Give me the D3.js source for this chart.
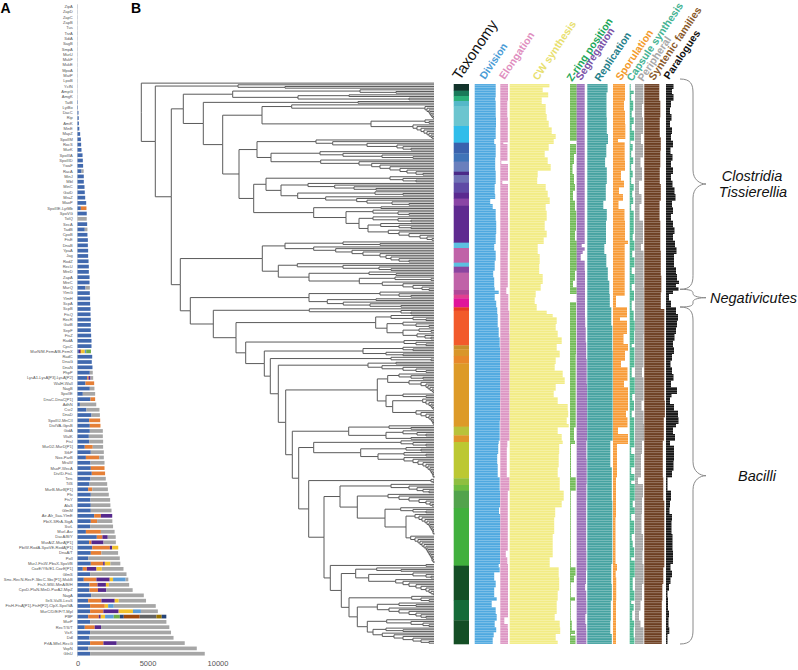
<!DOCTYPE html>
<html>
<head>
<meta charset="utf-8">
<script src="https://cdn.jsdelivr.net/npm/d3@7"></script>
<style>
    html, body { margin: 0; padding: 0; background: #fff; }
    svg { display: block; font-family: "Liberation Sans", Arial, sans-serif; }
</style>
</head>
<body>
<div id="chart"></div>
<script>
// ---- panel A: stacked bars per gene family ----
var geneNames = ["ZipA","ZapD","ZapC","ZapB","Tus","TrzA","SdiA","SagB","SmpA","MurU","MukF","MukE","MpoA","MatP","LpoB","YcfN","AmpG","AmgK","TatB","LytBo","DacC","Rip","AmiK","MinE","MapZ","SpoIIM","RocS","MurK","SpoIIIA","SpoIIID","YwaF","RacA",
    "MinJ","Mbl","MinC","GatD","MraZ","MaoP","SpoIIIE-LytMb","SpoVG","TolQ","SecA","TadB","CpoB","FtsE","DnaB","YpaA","Jag","RodZ","RecU","MreD","ZapA","MreC","MurQ","YlmG","YlmH","ScpA","ScpB","FtsQ","RecR","GatB","SepF","FtsZ","RadA",
    "CpsC","MurN/M-FemA/B-FemX","RadC","DnaG","DnaN","PhpP","LysA1-LysA[P3]-LysA[P2]","WalH-WalI","NagB","SpoIIE","DnaC-DnaC[P1]","AdhN","Csr2","DnaD","SpoIIIJ-MnCII","DivIVA-GpsB","GidA","WalK","FtsI","MurD2-MurD[P1]","StkP","Nox-ParB","MraW","MsoP-WecA","DivID-FtsL","Terc","TilS","MurB-MurB[P1]","Pfx","FtsY","AlaS","GlmM",
    "Air-Alr_Ilaa-YlmE","PbiX-SRrA-SigA","SsrL","MurI-Asr","DacA/B/Y","MurA/Z-MurA[P1]","PbiW-RodA-SpoVE-RodA[P1]","DnaA/T","PolI","MurJ-FtsW-PbuX-SpoVB","CozE/Yfk/E1-CozE[P1]","GlmS","Smc-RecN-RecF-SbcC-Sbc[P1]-MukB","FtsX-MSI-MinA/B/H","CpxD-PlaN-MinD-ParA2-MipZ","NagA","IleS-ValS-LeuS","FtsH-FtsA[P1]-FtsH[P2]-ClpX-SpoIVA","MurC/D/E/F/T-Mpl","PBP","MurP","RecT/S/T","VicK","Ddl","PrfA-MfeI-RecG","VopN","GlnU"];

var barKinds = ["b","b","b","b","b","b","b","b","b","b","b","b","b","b","b","b","b","b","b","b","b","b","b","b","b","b","b","b","b","b","b","bg",
    "b","b","b","b","b","b","bo","b","g","b","bg","b","b","b","b","b","b","b","b","b","b","bg","b","b","b","b","b","b","b","b","b","b",
    "b","bprylt","b","b","b","bg","bopg","bo","bg","bg","bo","bg","bg","bg","bo","bo","bg","bg","bg","bog","bg","bog","bg","bo","bo","bg","bg","bog","bg","bg","bg","bg",
    "bop","bog","bg","bog","bopg","bopg","bopy","bog","bg","bopyg","bopyg","bg","bopylg","bopyg","bopg","bg","bopyg","boylg","bopylg","bopyltdrkvd","bg","bopg","bg","bg","bopg","bg","bg"];

var barLengths = [[8],[8],[8],[8],[8],[8],[8],[8],[8],[8],[8],[8],[8],[8],[8],[8],[8],[8],[30],[35],[70],[90],[100],[130],[190],[240],[260],[285],[360],[380],[400],[290,150],
    [450],[450],[500],[520],[550],[620],[240,400],[660],[660],[690],[520,190],[710],[740],[740],[760],[760],[790],[810],[810],[860],[860],[570,310],[880],[900],[900],[930],[930],[950],[950],[950],[975],[1000],
    [1000],[100,100,60,260,100,340],[1050],[1020],[1070],[880,210],[690,100,140,190],[570,620],[880,330],[380,880],[930,330],[170,1170],[640,930],[1000,600],[830,790],[880,760],[880,930],[810,1000],[830,1000],[520,570,740],[950,930],[600,950,330],[930,1000],[950,980],[1020,950],[930,1090],[860,1260],[760,290,1120],[950,1285],[930,1400],[950,1400],[950,1480],
    [1190,480,810],[950,450,1090],[900,1640],[600,1070,980],[1380,400,380,570],[830,170,860,880],[1050,1260,170,430],[950,760,1190],[760,2260],[950,880,120,400,710],[380,285,690,380,1550],[900,2600],[450,900,950,240,900,190],[860,570,600,210,1450],[860,600,600,1880],[975,3760],[760,950,950,285,1950],[900,1050,240,400,3000],[900,950,1090,1020,570,1210],[760,760,140,310,620,430,285,1140,1190,380,330],[900,5450],[520,710,450,4880],[900,5780],[860,6000],[900,950,950,4860],[760,7760],[900,8190]];

var barColors = {b: "#4169ae", o: "#e57f36", g: "#a6a6a6", y: "#f2c22e", p: "#56298c", l: "#5b9bd5", t: "#70ad47", d: "#264478", r: "#9e480e", k: "#636363", v: "#997300"};
var barTicks = [0, 5000, 10000];

// ---- panel B: taxonomy strip, [last row, colour] ----
var taxonEnds = [4,7.2,10.2,13.2,25.2,35.2,41.6,46.6,52.6,54.6,59.2,65.2,68.8,73,95.2,98.4,107.2,109.6,113.2,123.6,126.4,128.6,134,136,156.8,159.2,163.2,167.6,205.6,210.8,214.8,236.6,240.6,244,254.4,289,309.6,321.8,336];
var taxonColors = ["#12332b","#1a7a5a","#2bb07a","#55b8c8","#6cc5cf","#30bdea","#3a62ad","#3f74b8","#6a7fbd","#4b2a88","#6f72b5","#5f4aa5","#5a2a90","#8a45a5","#5f2a90","#5cc0e0","#c062a8","#5cc0e0","#8b45a0","#c062a8","#b04898","#e04090","#e0149a","#e83a20","#f25a2b","#c8902c","#d9962a","#e8882a","#dd9a27","#b9c23a","#e0952a","#bcc832","#8fbf3f","#6dbc3f","#52a34c","#41b03d","#144e25","#156b38","#144e25"];

// ---- panel B: gene counts per genome, [last row, count] runs ----
var divisionRuns = [[8,21],[10,20.5],[20,21],[26,21.3],[33,21],[36,19.5],[44,21],[52,20.5],[60,21],[66,20],[69,20.5],[72,15.5],[75,18],[82,21],[90,21.5],[96,21],[100,19.5],[106,21],[112,20],[116,18.5],[122,19.5],[124,20],[126,24],[130,20],[134,21.5],[138,22.5],[146,23],[152,24],[158,25],[172,25.3],[190,25.5],[202,25.3],[214,25],[216,24],[222,23.5],[228,22.5],[236,23],[244,25],[254,25.3],[258,24.3],[270,25.5],[288,25.3],[290,24],[293,25],[298,19.5],[302,21],[308,19.5],[310,22],[314,17],[318,21],[322,22],[326,20],[329,21.5],[332,19],[336,18]];
var elongationRuns = [[10,7.7],[20,7],[35,7.5],[36,3],[46,7.2],[48,1],[58,7.7],[60,2],[80,7.7],[100,7.8],[122,7.5],[126,6],[136,8],[150,9],[214,9.2],[218,7],[236,6.5],[244,9.2],[280,7.5],[284,5.5],[288,7],[320,7.7],[324,4],[327,7.5],[336,7.7]];
var wallRuns = [[2,39.7],[5,33],[8,38.5],[12,32],[18,36],[22,37],[26,39],[30,42],[33,46],[36,44],[40,39],[44,35],[48,38],[52,41],[56,28],[60,27.5],[64,36],[68,38],[72,40],[76,36],[82,37],[88,35],[92,37],[96,34],[102,28],[108,30],[114,29.5],[120,33],[124,31],[128,26],[132,25],[136,27],[138,37],[140,43],[144,47],[148,46],[152,48],[156,52],[160,47],[164,50],[168,46],[172,45],[176,53],[180,55],[184,46],[188,44],[192,48],[196,58],[200,58.5],[204,57],[206,59],[210,48],[214,52],[216,53],[222,49.5],[230,49],[236,48],[244,50],[250,54],[254,52],[260,45.5],[270,44.5],[284,43],[290,40],[296,49],[304,49.5],[310,48],[318,47],[322,45],[326,50],[330,50.5],[334,46],[336,48]];
var zringRuns = [[34,6.7],[36,0],[42,6],[48,4],[54,2.5],[60,4],[64,5],[70,3],[76,5],[82,6.2],[88,6],[94,5],[112,6.7],[118,5],[122,3],[126,6.7],[131,0],[162,6],[206,5.7],[214,4],[216,5],[236,1],[244,5.7],[290,.8],[295,5.5],[299,4],[308,.8],[310,5],[322,.8],[328,1.8],[330,5],[331,1],[336,5.5]];
var segregationRuns = [[96,8],[98,5],[100,8],[102,6],[106,4],[112,8],[140,8.3],[146,8.5],[155,9],[165,9.5],[180,10],[200,10.3],[214,10.4],[225,9.7],[240,10],[250,9.7],[280,9.5],[292,9.7],[300,9.3],[304,8.5],[310,9.5],[318,9.7],[324,8.7],[328,9.5],[336,9.7]];
var replicationRuns = [[5,20.3],[20,19.2],[30,19.5],[36,20.7],[44,19],[50,17.8],[60,19.5],[70,18.5],[75,16],[82,19.5],[96,18.7],[102,17],[110,19],[118,20.5],[126,22],[134,22.5],[145,24],[160,25],[214,25.3],[230,23],[250,24.5],[288,25],[300,24],[310,24.5],[322,23.5],[330,23],[336,24.5]];
var sporulationRuns = [[10,12],[16,11],[24,12],[33,12.3],[35,5],[46,11.7],[52,12],[58,8],[62,11],[66,6],[70,10],[75,5.5],[82,11.5],[94,12],[96,15],[127,11.7],[134,3],[140,14],[142,7],[150,14],[156,10.5],[160,15],[166,12],[170,8],[178,14.5],[182,11],[196,15],[200,13],[206,14.5],[210,5],[216,15],[236,4],[260,3],[288,2.5],[292,4],[296,2.7],[310,3.2],[336,3]];
var capsuleRuns = [[4,1],[6,4],[10,1.5],[16,3.5],[20,2],[24,4],[28,2],[34,4.5],[36,.8],[40,3],[44,1.5],[48,3.5],[52,1.5],[56,3],[60,1.5],[64,4],[68,2.5],[72,3.5],[76,1.5],[82,4],[90,4],[94,3],[100,4.7],[104,2.5],[110,4.7],[114,2],[120,4.7],[124,2],[130,4.3],[136,2],[142,4],[148,5],[156,4.5],[158,2],[170,4.7],[176,2],[186,5],[190,2.5],[196,4.3],[200,2],[214,4.5],[218,4.7],[222,1.5],[230,4.7],[234,1.5],[238,4.7],[240,1.5],[250,5],[254,3],[258,5],[262,1.5],[270,4.5],[274,2],[278,3],[284,4.5],[286,1.5],[296,5],[304,3],[310,4.7],[312,1.5],[316,4],[322,2.5],[326,4.5],[332,4],[336,4.7]];
var peripheralRuns = [[12,8.3],[20,7],[30,8],[36,6],[44,8],[50,5.5],[58,7],[66,4],[72,6.5],[82,4.5],[96,8],[100,6],[122,8.5],[130,8.8],[150,8.8],[170,8.5],[176,7],[190,8.5],[196,6.5],[204,8.5],[214,9],[222,7],[236,6],[240,3],[248,8],[258,7],[270,6.5],[280,8],[288,7.5],[300,8.5],[310,7],[316,5.5],[322,4],[326,5.5],[336,8.5]];
var syntenicRuns = [[10,15],[20,16],[32,15.5],[40,16.5],[50,16],[60,15.5],[70,16.5],[82,15.3],[100,16],[115,16.5],[125,17],[135,16.5],[145,20],[160,20],[190,20],[200,20.5],[214,19.5],[236,18.5],[250,19],[290,20],[300,19],[310,18],[322,17.5],[336,17.5]];
var paralogueRuns = [[3,7.5],[6,6],[10,7.5],[14,5],[18,4],[22,5.5],[26,4],[30,6],[34,5],[38,7],[42,4.5],[46,6.5],[50,5],[54,7],[58,5],[62,6.5],[66,8.5],[70,9.5],[74,6],[78,7],[82,5],[86,7],[90,8.5],[94,7],[98,9],[102,10.5],[106,8],[110,8],[114,10],[118,11],[120,13],[122,10],[124,12.5],[126,7],[130,3],[134,5],[138,10],[142,12],[146,11],[150,10],[154,8.5],[158,7],[162,8],[166,6],[170,4.5],[174,6],[178,7.5],[182,5],[186,11],[188,5.5],[192,4],[196,8],[200,12],[204,12.5],[206,10],[210,7],[214,9],[217,4],[222,8],[226,8],[232,7.5],[236,6],[240,1.5],[244,1.5],[250,5],[254,4],[258,3.5],[262,6],[270,5.5],[280,6.5],[288,7],[292,4.5],[296,6],[300,4.5],[304,3],[308,1.5],[310,2],[316,2],[320,3],[326,2.5],[330,3.3],[336,1.5]];

// ---- panel B: phylogeny, node = [depth, children...], 0 = tip ----
function comb () {
    var depths = Array.prototype.slice.call(arguments);
    return depths.reduceRight(function (rest, d) { return [d, 0, rest]; }, 0);
}

var cladeLate = [189.3, comb(285),
    [200.3,
        [214.7, comb(235.7,260), [227.7, comb(272,285,290), comb(254.7,262,268,275,280,285,288,290,292)]],
        [208, comb(270.7,280,288),
            [216.3,
                [236.3, comb(258,275), comb(248,258,268,275,280,285)],
                [226.3, comb(245.7,270,282,288), [232, comb(245,262), comb(241.3,253,262,272,280,288)]]]]]];
var cladeMiddle = [199, comb(250,268,276,282,288),
    [216.3, comb(247,258,268,278,285,289,291),
        [244, comb(259.7,272,285),
            [265, comb(274,278,281,284,286,288,289,290,291,292,292,293), comb(269.7,274,277,279,281,283,285,286,287,288,289,290,291,291,292,293)]]]];
var cladeBacilli = [129.3, comb(250,290),
    [137.3, [227, comb(255), comb(241,262,275,285)],
        [144.7,
            [236.3,
                [246.7, comb(258,270,282), comb(268,280,285,287,289,291,292)],
                [245, comb(262,285), [251.7, comb(281.7,285,288,290,291,292), comb(275,280,285,288,290,291,292,292)]]],
            [151.3,
                [207.7, comb(248,270), [245, comb(262,276,285), comb(270)]],
                [157.7,
                    [172.7, comb(260,272,285), [219.7, comb(265,280), [237, comb(263,285), comb(263,272,277,282,285,287,289,290,291,292,292,293)]]],
                    [167.7, comb(290,292), [183, cladeMiddle, cladeLate]]]]]]];
var cladeNegativicutes = [95,
    [234.7, comb(250,272,285), [246, comb(262,275,288), [262, comb(278,290), comb(276,284,290)]]],
    [104.7, comb(263,275,285), [123.3, [222, comb(262,272), comb(245,262)], cladeBacilli]]];
var cladeTissierellia = [39.3,
    [121.3,
        [144, comb(202,239), comb(172.7,194.7,211,222,239,245,250,258,268)],
        [137.3, comb(156.3,202,238,250), [168, comb(228,255), [218.3, comb(254,290), comb(241.3,262,272,281,288)]]]],
    [49.3,
        [168, comb(239,258,270), [186.3, comb(235), comb(202.3,229,260)]],
        [72.3, comb(168.3,260,270), cladeNegativicutes]]];
var cladeClostridia = [42.3,
    [91.7, comb(219,255), [157, comb(208), comb(268)]],
    [62.3, comb(217),
        [81.7,
            [121, [150.7, 0, comb(284,286,288,289,290,291,292)], [230, comb(284,288), comb(272,276,280,283,286,288,290,291)]],
            [98,
                [116, comb(175,191.7,226,256,262,270), [130, comb(179,202,241,272), comb(179.7,218,230.7,239,249,259,266,275,282)]],
                [112.7,
                    [125, comb(249,262,275), [140, comb(167,193.7,213,235), [156.7, comb(234,262), comb(184.7,215.7,226,251,268)]]],
                    [172.7, comb(240), [205, comb(232,257,268), [218, comb(232,257,270), [227, comb(239.7,258,270), comb(247.3,258,268,279,286,291)]]]]]]]]];
var treeData = [0.3, 0, [14.3, comb(97,144), [30.3, cladeClostridia, cladeTissierellia]]];

var svg = d3.select("#chart").append("svg")
    .attr("width", 798)
    .attr("height", 670);

// Panel A
function drawBars () {
    var x = d3.scaleLinear().domain([0, 10000]).range([77.5, 217.5]);
    var y = d3.scaleBand().domain(d3.range(geneNames.length))
        .range([4.05, 656.35]).paddingInner(0.3).paddingOuter(0.15);

    svg.append("line")
        .attr("x1", x(0)).attr("x2", x(0))
        .attr("y1", 4).attr("y2", 657)
        .attr("stroke", "#d0d0d0")
        .attr("stroke-width", 0.6);

    svg.append("g").selectAll("text")
        .data(geneNames)
        .enter().append("text")
        .attr("x", 72.8)
        .attr("y", function (d, i) { return y(i) + y.bandwidth() / 2; })
        .attr("dy", ".35em")
        .attr("text-anchor", "end")
        .attr("font-size", 4.05)
        .attr("fill", "#555")
        .text(function (d) { return d; });

    var rows = svg.append("g").selectAll("g")
        .data(barLengths)
        .enter().append("g");

    rows.each(function (lengths, i) {
        var from = 0;
        var row = d3.select(this);
        lengths.forEach(function (len, j) {
            row.append("rect")
                .attr("x", x(from))
                .attr("y", y(i))
                .attr("width", x(from + len) - x(from))
                .attr("height", y.bandwidth())
                .attr("fill", barColors[barKinds[i][j]]);
            from += len;
        });
    });

    var axis = svg.append("g")
        .attr("transform", "translate(0,661)")
        .call(d3.axisBottom(x).tickValues(barTicks).tickFormat(d3.format("d")).tickSize(0).tickPadding(0));
    axis.select(".domain").remove();
    axis.selectAll("text")
        .attr("font-size", 7.5)
        .attr("font-family", "'Liberation Sans', Arial, sans-serif")
        .attr("fill", "#555");
}

// Panel B tree
function drawTree () {
    var x = d3.scaleLinear().domain([0, 293]).range([141, 434]);
    var root = d3.hierarchy(treeData, function (d) {
        return Array.isArray(d) ? d.slice(1) : null;
    });
    var leaves = root.leaves();
    var y = d3.scaleLinear().domain([0, leaves.length]).range([82.3, 644]);

    leaves.forEach(function (n, i) {
        n.py = y(i + 0.5);
        n.px = x(293);
    });
    root.eachAfter(function (n) {
        if (n.children) {
            n.px = x(n.data[0]);
            n.py = (n.children[0].py + n.children[n.children.length - 1].py) / 2;
        }
    });

    svg.append("g").selectAll("path")
        .data(root.links())
        .enter().append("path")
        .attr("d", function (l) {
            return "M" + l.source.px + "," + l.source.py + "V" + l.target.py + "H" + l.target.px;
        })
        .attr("fill", "none")
        .attr("stroke", "#5a5a5a")
        .attr("stroke-width", 1);
}

// Panel B columns
var ROWS = 336;
var columns = [
    {name: "Division", runs: divisionRuns, start: 474.7, color: "#4fa9e0"},
    {name: "Elongation", runs: elongationRuns, start: 500.3, color: "#dd97c4"},
    {name: "CW synthesis", runs: wallRuns, start: 509.7, color: "#f2ec85"},
    {name: "Z-ring position", runs: zringRuns, start: 570, color: "#72bb58"},
    {name: "Segregation", runs: segregationRuns, start: 576.7, color: "#9a70b8"},
    {name: "Replication", runs: replicationRuns, start: 587.3, color: "#46a3a1"},
    {name: "Sporulation", runs: sporulationRuns, start: 613, color: "#f89c38"},
    {name: "Capsule synthesis", runs: capsuleRuns, start: 629.7, color: "#4ab791"},
    {name: "Peripheral", runs: peripheralRuns, start: 635, color: "#a6a6a6"},
    {name: "Syntenic families", runs: syntenicRuns, start: 644.3, color: "#6d3f22"},
    {name: "Paralogues", runs: paralogueRuns, start: 666, color: "#151515"}
];

function expandRuns (runs) {
    var values = [], row = 0;
    runs.forEach(function (r) {
        while (row < r[0] && row < ROWS) {
            values.push(r[1]);
            row++;
        }
    });
    return values;
}

function drawColumns () {
    var rowY = d3.scaleBand().domain(d3.range(ROWS)).range([84, 644]).padding(0.04);
    var stripY = d3.scaleLinear().domain([0, ROWS]).range([84, 644]);
    var w = d3.scaleLinear().domain([0, 100]).range([0, 100]);

    svg.append("g").selectAll("rect")
        .data(taxonEnds)
        .enter().append("rect")
        .attr("x", 453.7)
        .attr("y", function (d, i) { return stripY(i ? taxonEnds[i - 1] : 0); })
        .attr("width", 15.3)
        .attr("height", function (d, i) { return stripY(d) - stripY(i ? taxonEnds[i - 1] : 0) + 0.3; })
        .attr("fill", function (d, i) { return taxonColors[i]; });

    columns.forEach(function (col) {
        svg.append("g")
            .attr("fill", col.color)
            .selectAll("rect")
            .data(expandRuns(col.runs))
            .enter().append("rect")
            .attr("x", col.start)
            .attr("y", function (d, i) { return rowY(i); })
            .attr("width", function (d) { return w(d); })
            .attr("height", rowY.bandwidth());
    });
}

// Rotated column titles
var headers = [
    {text: "Taxonomy", x: 460, y: 81, size: 15, weight: "normal", color: "#111"},
    {text: "Division", x: 485, y: 80, size: 10.5, weight: "bold", color: "#4a9cd6"},
    {text: "Elongation", x: 504.5, y: 80, size: 10.5, weight: "bold", color: "#df8fc0"},
    {text: "CW synthesis", x: 538, y: 81, size: 10.5, weight: "bold", color: "#e8e070"},
    {text: "Z-ring position", x: 572, y: 82, size: 10.5, weight: "bold", color: "#21a659"},
    {text: "Segregation", x: 581, y: 81, size: 10.5, weight: "bold", color: "#7a52a8"},
    {text: "Replication", x: 600, y: 82, size: 10.5, weight: "bold", color: "#25808a"},
    {text: "Sporulation", x: 621, y: 81, size: 10.5, weight: "bold", color: "#f39a2b"},
    {text: "Capsule synthesis", x: 632, y: 82, size: 10.5, weight: "bold", color: "#45b393"},
    {text: "Peripheral", x: 643, y: 82, size: 10.5, weight: "bold", color: "#a8a8a8"},
    {text: "Syntenic families", x: 654, y: 81, size: 10.5, weight: "bold", color: "#8a5a2b"},
    {text: "Paralogues", x: 669, y: 80, size: 10.5, weight: "bold", color: "#111"}
];

function drawHeaders () {
    svg.append("g").selectAll("text")
        .data(headers)
        .enter().append("text")
        .attr("transform", function (d) { return "translate(" + d.x + "," + d.y + ") rotate(-56)"; })
        .attr("font-size", function (d) { return d.size; })
        .attr("font-weight", function (d) { return d.weight; })
        .attr("fill", function (d) { return d.color; })
        .text(function (d) { return d.text; });
}

// Curly braces and clade names
var braces = [
    {top: 79, tip: 184, bottom: 289.3, r: 14},
    {top: 289.3, tip: 297.7, bottom: 307, r: 4},
    {top: 307, tip: 475.7, bottom: 644, r: 14}
];
var cladeLabels = [
    {text: "Clostridia", x: 752, y: 180.7},
    {text: "Tissierellia", x: 753, y: 197.3},
    {text: "Negativicutes", x: 753.5, y: 302.7},
    {text: "Bacilli", x: 757, y: 480.7}
];

function bracePath (b) {
    var x0 = 680, xm = 693, xt = 706;
    return "M" + x0 + "," + b.top +
        "C" + (xm - 2) + "," + b.top + " " + xm + "," + (b.top + b.r * 0.4) + " " + xm + "," + (b.top + b.r) +
        "V" + (b.tip - b.r) +
        "C" + xm + "," + (b.tip - b.r * 0.3) + " " + (xt - 6) + "," + b.tip + " " + xt + "," + b.tip +
        "C" + (xt - 6) + "," + b.tip + " " + xm + "," + (b.tip + b.r * 0.3) + " " + xm + "," + (b.tip + b.r) +
        "V" + (b.bottom - b.r) +
        "C" + xm + "," + (b.bottom - b.r * 0.4) + " " + (xm - 2) + "," + b.bottom + " " + x0 + "," + b.bottom;
}

function drawBraces () {
    svg.append("g").selectAll("path")
        .data(braces)
        .enter().append("path")
        .attr("d", bracePath)
        .attr("fill", "none")
        .attr("stroke", "#8a8a8a")
        .attr("stroke-width", 1);

    svg.append("g").selectAll("text")
        .data(cladeLabels)
        .enter().append("text")
        .attr("x", function (d) { return d.x; })
        .attr("y", function (d) { return d.y; })
        .attr("text-anchor", "middle")
        .attr("font-style", "italic")
        .attr("font-size", 14.5)
        .attr("fill", "#111")
        .text(function (d) { return d.text; });
}

drawBars();
drawTree();
drawColumns();
drawHeaders();
drawBraces();

// Panel letters
svg.append("text").attr("x", 0.5).attr("y", 13).attr("font-size", 14).attr("font-weight", "bold").text("A");
svg.append("text").attr("x", 131).attr("y", 13).attr("font-size", 14).attr("font-weight", "bold").text("B");
</script>
</body>
</html>
